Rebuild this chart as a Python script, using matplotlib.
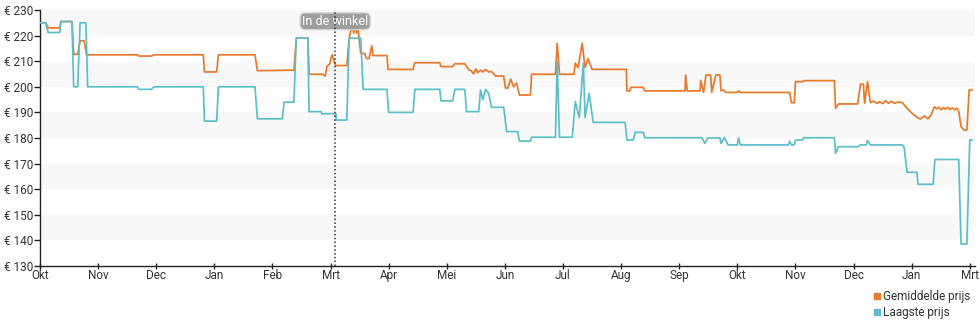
import matplotlib
matplotlib.use("Agg")
import matplotlib.pyplot as plt
from matplotlib.lines import Line2D

plt.rcParams['font.family'] = ['Roboto', 'DejaVu Sans']

# Time axis in months since the first October shown
month_labels = ["Okt", "Nov", "Dec", "Jan", "Feb", "Mrt", "Apr", "Mei", "Jun",
                "Jul", "Aug", "Sep", "Okt", "Nov", "Dec", "Jan", "Mrt"]
y_ticks = [130, 140, 150, 160, 170, 180, 190, 200, 210, 220, 230]

avg_x = [0.00, 0.10, 0.14, 0.34, 0.36, 0.55, 0.58, 0.65, 0.69, 0.76, 0.80, 1.68,
         1.70, 1.92, 1.96, 2.81, 2.83, 3.04, 3.07, 3.70, 3.74, 4.37, 4.41, 4.61,
         4.63, 4.87, 4.89, 4.91, 4.94, 4.99, 5.01, 5.03, 5.06, 5.09, 5.28, 5.32,
         5.35, 5.37, 5.40, 5.42, 5.45, 5.47, 5.49, 5.52, 5.59, 5.62, 5.66, 5.71,
         5.73, 5.97, 5.99, 6.42, 6.45, 6.88, 6.90, 7.10, 7.14, 7.31, 7.38, 7.42,
         7.46, 7.50, 7.53, 7.58, 7.62, 7.67, 7.72, 7.77, 7.84, 7.98, 8.01, 8.05,
         8.10, 8.15, 8.20, 8.25, 8.44, 8.46, 8.87, 8.90, 8.94, 9.19, 9.21, 9.26,
         9.33, 9.38, 9.43, 9.50, 10.09, 10.10, 10.15, 10.17, 10.38, 10.41, 11.10,
         11.11, 11.14, 11.36, 11.37, 11.42, 11.46, 11.54, 11.56, 11.63, 11.70,
         11.72, 11.76, 11.80, 12.00, 12.02, 12.05, 12.90, 12.93, 12.98, 13.00,
         13.12, 13.14, 13.67, 13.69, 13.74, 14.07, 14.12, 14.17, 14.19, 14.24,
         14.29, 14.35, 14.40, 14.45, 14.50, 14.55, 14.60, 14.65, 14.70, 14.77,
         14.84, 14.92, 15.01, 15.09, 15.15, 15.22, 15.28, 15.33, 15.39, 15.43,
         15.47, 15.51, 15.55, 15.58, 15.62, 15.66, 15.70, 15.74, 15.78, 15.81,
         15.85, 15.90, 15.95, 15.99, 16.04]
avg_price = [225, 225, 223, 223, 225.5, 225.5, 212.7, 212.7, 218, 218, 212.5, 212.5,
             212, 212, 212.5, 212.5, 205.8, 205.8, 212.5, 212.5, 206.3, 206.5, 219, 219,
             204.9, 204.9, 204.3, 204.3, 208, 209, 211.5, 212.5, 210, 208.3, 208.3, 219,
             222, 224, 221, 224, 221, 224, 219, 213, 213, 211, 211, 216,
             212.2, 212.2, 206.8, 206.8, 209.4, 209.4, 207.9, 207.9, 209, 209, 206.6, 206.3,
             205, 207, 205.5, 206.5, 205.8, 206.8, 205.8, 206, 204.2, 204.2, 199.5, 199.5,
             203, 200, 201.5, 196.8, 196.8, 204.9, 204.9, 217, 204.9, 204.9, 209.2, 207.5,
             217, 207.5, 211, 206.8, 206.8, 198.4, 198.4, 199.8, 199.8, 198.4, 198.4,
             204.6, 198.4, 198.4, 202.5, 197.8, 204.6, 204.6, 197.8, 204.6, 204.6,
             198.4, 198.8, 197.8, 197.8, 198.5, 197.8, 197.8, 193.8, 193.8, 202,
             202, 202.4, 202.4, 191.6, 193.3, 193.3, 201, 201, 193.5, 202,
             193.8, 194.4, 193.5, 194.2, 193.4, 194.5, 193.6, 194.3, 193.5, 194.1,
             193.8, 191.6, 189.6, 188.1, 187.4, 188.6, 187.5, 188.8, 192.2, 191.4,
             192.0, 191.0, 191.9, 191.2, 192.0, 191.1, 191.8, 191.0, 191.6, 190.5,
             184.4, 183.1, 183.1, 198.75, 198.75]

low_x = [0.00, 0.10, 0.14, 0.34, 0.36, 0.55, 0.58, 0.65, 0.69, 0.79, 0.82, 1.68,
         1.70, 1.92, 1.96, 2.81, 2.83, 3.04, 3.07, 3.70, 3.74, 4.17, 4.20, 4.37,
         4.41, 4.61, 4.63, 4.84, 4.85, 5.09, 5.10, 5.28, 5.32, 5.52, 5.56, 5.97,
         6.00, 6.42, 6.45, 6.88, 6.90, 7.10, 7.14, 7.31, 7.34, 7.55, 7.58, 7.62,
         7.67, 7.72, 7.77, 7.98, 8.03, 8.22, 8.25, 8.44, 8.46, 8.87, 8.90, 8.94,
         9.16, 9.21, 9.28, 9.35, 9.38, 9.45, 9.52, 10.07, 10.10, 10.21, 10.24, 10.38,
         10.41, 11.39, 11.44, 11.49, 11.70, 11.72, 11.78, 11.84, 12.00, 12.02, 12.05,
         12.88, 12.90, 12.93, 12.98, 13.00, 13.12, 13.14, 13.67, 13.69, 13.74, 14.07,
         14.12, 14.22, 14.24, 14.29, 14.84, 14.87, 14.92, 15.09, 15.11, 15.37, 15.40,
         15.81, 15.85, 15.95, 16.00, 16.04]
low_price = [225, 225, 221.2, 221.2, 225.5, 225.5, 200, 200, 225, 225, 200, 200,
             199, 199, 200, 200, 186.6, 186.6, 200, 200, 187.5, 187.5, 194, 194,
             219, 219, 190.3, 190.3, 189.5, 189.5, 187, 187, 219, 219, 199, 199,
             190, 190, 199, 199, 194.5, 194.5, 199, 199, 190.3, 190.3, 198.8, 195,
             199, 197.5, 192, 192, 182.5, 182.5, 178.8, 178.8, 180.3, 180.3, 209.8, 180.3,
             180.3, 194.2, 188, 209.2, 188, 197.4, 186.1, 186.1, 179.2, 179.2, 182.2, 182.2,
             180.1, 180.1, 177.9, 180, 180, 177.9, 180.2, 177.3, 177.3, 180, 177.3,
             177.3, 178.8, 177.3, 177.3, 179.2, 179.2, 180.1, 180.1, 174, 176.6, 176.6,
             177.3, 177.3, 179, 177.3, 177.3, 176.4, 166.6, 166.6, 161.9, 161.9, 171.6,
             171.6, 138.6, 138.6, 179.2, 179.2]

store_marker = 5.08  # "In de winkel" date

orange = "#e8782a"
teal = "#5bbfc9"
text_col = "#333333"

fig = plt.figure(figsize=(9.8, 3.25), dpi=100)
ax = fig.add_axes([40 / 980, 1 - 266 / 325, 935 / 980, 256 / 325])

xmax = 16.09
ax.set_xlim(0, xmax)
ax.set_ylim(130, 230)

# alternating light bands
for lo in range(140, 230, 20):
    ax.axhspan(lo, lo + 10, color="#f8f8f8", zorder=0, lw=0)

ax.plot(low_x, low_price, color=teal, lw=1.25, zorder=3, solid_joinstyle="round")
ax.plot(avg_x, avg_price, color=orange, lw=1.25, zorder=2, solid_joinstyle="round")

ax.axvline(store_marker, ymin=0, ymax=1.0, color="#333333", lw=1.1,
           linestyle=(0, (1, 1.5)), zorder=6)
ax.text(store_marker, 225.6, "In de winkel", ha="center", va="center",
        fontsize=9, color="white", zorder=5,
        bbox=dict(boxstyle="round,pad=0.15,rounding_size=0.4",
                  fc="#999999", ec="#d5d5d5", lw=1.0, alpha=0.95))

for side in ("top", "right"):
    ax.spines[side].set_visible(False)
ax.spines["left"].set_color("#222222")
ax.spines["bottom"].set_color("#222222")
ax.spines["left"].set_linewidth(1.0)
ax.spines["bottom"].set_linewidth(1.0)

ax.set_yticks(y_ticks)
ax.set_yticklabels([f"€ {v}" for v in y_ticks])
ax.set_xticks(range(len(month_labels)))
ax.set_xticklabels(month_labels)
ax.tick_params(axis="y", direction="out", length=4, width=1, color="#222222",
               labelsize=8.5, labelcolor=text_col, pad=1)
ax.tick_params(axis="x", direction="inout", length=5, width=1, color="#222222",
               labelsize=8.5, labelcolor=text_col, pad=0)

handles = [Line2D([], [], marker="s", ls="none", color=orange, markersize=4.5),
           Line2D([], [], marker="s", ls="none", color=teal, markersize=4.5)]
fig.legend(handles, ["Gemiddelde prijs", "Laagste prijs"], loc="upper left",
           bbox_to_anchor=(873 / 980, 1 - 290 / 325), frameon=False, fontsize=8.5,
           handlelength=0.6, handletextpad=0.25, labelspacing=0.25,
           borderaxespad=0, borderpad=0, labelcolor=text_col)

fig.savefig("out.png", dpi=100)
